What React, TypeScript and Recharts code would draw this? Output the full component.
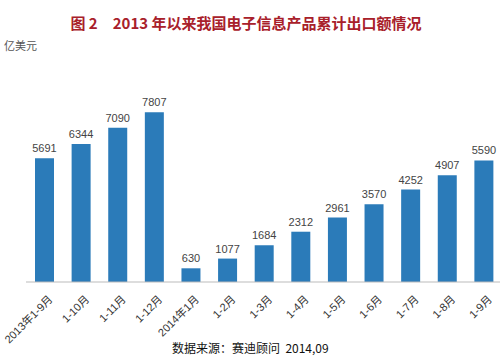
import React from "react";
import { BarChart, Bar, XAxis, YAxis, LabelList } from "recharts";

const categories = ["2013年1-9月", "1-10月", "1-11月", "1-12月", "2014年1月", "1-2月", "1-3月", "1-4月", "1-5月", "1-6月", "1-7月", "1-8月", "1-9月"];
const exportValues = [5691, 6344, 7090, 7807, 630, 1077, 1684, 2312, 2961, 3570, 4252, 4907, 5590];

const data = categories.map((c, i) => ({ name: c, value: exportValues[i] }));

const FONT = '"Noto Sans CJK SC", "Noto Sans", sans-serif';
const NUMFONT = '"Liberation Sans", "Noto Sans CJK SC", sans-serif';

const Tick = (props: any) => {
  const { x, y, payload } = props;
  const ax = x + 9;
  const ay = y + 10;
  return (
    <text
      x={ax}
      y={ay}
      transform={`rotate(-45, ${ax}, ${ay})`}
      textAnchor="end"
      fontSize={11}
      fill="#333"
      fontFamily={NUMFONT}
    >
      {payload.value}
    </text>
  );
};

export default function App() {
  return (
    <div style={{ position: "absolute", left: 0, top: 0, width: 500, height: 359, overflow: "hidden", background: "#fff", fontFamily: FONT }}>
      <div style={{ position: "absolute", left: 0, top: 12, width: 492, textAlign: "center", fontSize: 15, fontWeight: 700, color: "#a8202a", whiteSpace: "pre" }}>
        {"图 2　2013 年以来我国电子信息产品累计出口额情况"}
      </div>
      <div style={{ position: "absolute", left: 4, top: 37, fontSize: 11, color: "#555" }}>亿美元</div>
      <div style={{ position: "absolute", left: 172, top: 339, fontSize: 12, color: "#111", whiteSpace: "pre" }}>
        {"数据来源：赛迪顾问  2014,09"}
      </div>
      <div style={{ position: "absolute", left: 0, top: 0 }}>
        <BarChart width={502} height={359} data={data} margin={{ top: 108, right: 0, left: 26, bottom: 0 }}>
          <XAxis dataKey="name" height={77} interval={0} tick={<Tick />} tickLine={false} axisLine={{ stroke: "#bbb" }} />
          <YAxis hide domain={[0, 8000]} />
          <Bar dataKey="value" fill="#2b7bb9" barSize={19} isAnimationActive={false}>
            <LabelList dataKey="value" position="top" offset={6} fontSize={11} fill="#444" fontFamily={NUMFONT} />
          </Bar>
        </BarChart>
      </div>
    </div>
  );
}
